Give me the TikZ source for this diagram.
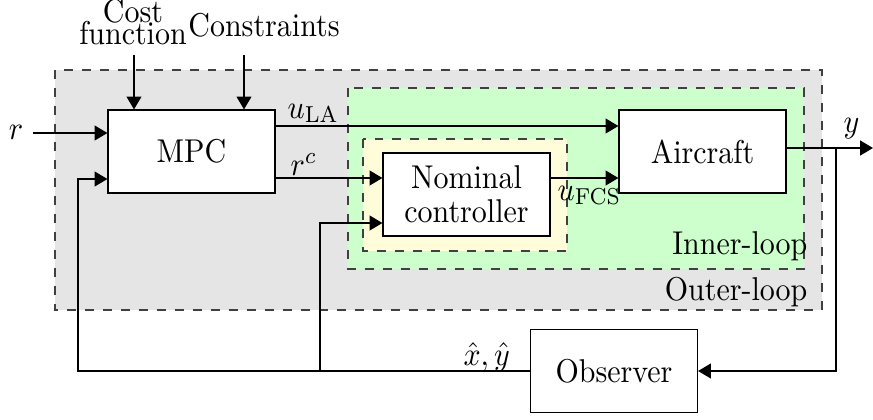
\documentclass[tikz,border=0pt]{standalone}
\usepackage{graphicx}
\usetikzlibrary{arrows.meta}
% glyphs are set slightly taller than wide
\newcommand\tx[1]{\scalebox{1}[1.1]{#1}}
\begin{document}
\begin{tikzpicture}[x=0.3336pt,y=-0.3336pt,
  blk/.style={draw, fill=white, minimum width=55.7pt, minimum height=27.7pt,
              inner sep=0pt, align=center},
  arr/.style={-{Triangle[length=4.3pt,width=5pt]}},
  zone/.style={draw=black!75, dashed},
  lbl/.style={inner sep=0pt}]
\useasboundingbox (0,0) rectangle (873,419);

% nested loop regions
\draw[zone, fill=gray!20]    (55,70)   rectangle (822,310);
\draw[zone, fill=green!20]   (348,88)  rectangle (804,269);
\draw[zone, fill=yellow!15]  (363,139) rectangle (567,251);

% blocks
\node[blk] (mpc) at (191.5,151.5) {\tx{MPC}};
\node[blk] (nom) at (466.5,194.5) {\tx{Nominal}\\[-0.8pt]\tx{controller}};
\node[blk] (ac)  at (702.5,151.5) {\tx{Aircraft}};
\node[blk] (obs) at (614,371)     {\tx{Observer}};

% region labels
\node[lbl, anchor=base east] (inl)  at (808,254) {\tx{Inner-loop}};
\node[lbl, anchor=base east] (outl) at (808,300) {\tx{Outer-loop}};

% external inputs
\node[lbl, align=center, anchor=base] (cfl) at (133,44.5) {\tx{Cost}\\[-4.5pt]\tx{function}};
\node[lbl, anchor=base] (csl) at (264,36) {\tx{Constraints}};
\node[lbl] (rl) at (16,132) {\tx{$r$}};

\coordinate (cfin) at (134,55);
\coordinate (csin) at (244,55);
\coordinate (rin)  at (33,133);
\draw[arr] (cfin) -- (cfin |- mpc.north);
\draw[arr] (csin) -- (csin |- mpc.north);
\draw[arr] (rin) -- (rin -| mpc.west);

% forward paths
\draw[arr] (mpc.east |- 0,126) -- (ac.west |- 0,126);
\draw[arr] (mpc.east |- 0,178) -- (nom.west |- 0,178);
\draw[arr] (nom.east |- 0,178) -- (ac.west |- 0,178);
\node[lbl, anchor=base west] (ula)  at (287,118) {\tx{$u_{\mathrm{LA}}$}};
\node[lbl, anchor=base west] (rcl)  at (290,175) {\tx{$r^c$}};
\node[lbl, anchor=base west] (ufcs) at (557,200) {\tx{$u_{\mathrm{FCS}}$}};

% output and measurement
\coordinate (yout) at (873,148);
\coordinate (br)   at (836,148);
\draw[arr] (ac.east |- yout) -- (yout);
\node[lbl, anchor=base west] (yl) at (843,132) {\tx{$y$}};
\draw[arr] (br) |- (obs.east);

% estimate feedback
\coordinate (fbl) at (78,179);
\coordinate (fbn) at (320,223);
\draw[arr] (obs.west) -| (fbl) -- (fbl -| mpc.west);
\draw[arr] (fbn |- obs.west) -- (fbn) -- (fbn -| nom.west);
\node[lbl, anchor=base west] (xyl) at (463,365) {\tx{$\hat{x},\hat{y}$}};
\end{tikzpicture}
\end{document}
